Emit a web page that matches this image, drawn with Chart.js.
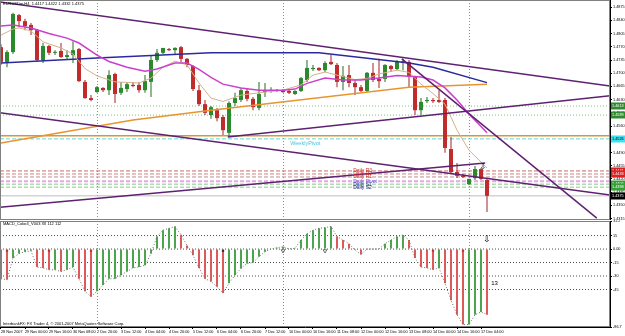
<!DOCTYPE html>
<html>
<head>
<meta charset="utf-8">
<script src="https://cdn.jsdelivr.net/npm/chart.js@4.4.1/dist/chart.umd.min.js"></script>
<style>
  html, body { margin: 0; padding: 0; background: #fff; }
  #wrap { position: relative; width: 625px; height: 336px; overflow: hidden; }
  #priceChart { position: absolute; left: 0; top: 0; }
  #oscChart { position: absolute; left: 0; top: 220px; }
</style>
</head>
<body>
<div id="wrap">
  <canvas id="priceChart" width="625" height="220"></canvas>
  <canvas id="oscChart" width="625" height="116"></canvas>
</div>
<script>
// --- 1. DATA ---
const symbol = 'EURUSDm,H4';

const opens  = [1.4769,1.4730,1.4756,1.4854,1.4838,1.4828,1.4814,1.4735,1.4772,1.4754,1.4759,1.4743,1.4748,1.4764,1.4677,1.4634,1.4650,1.4661,1.4655,1.4698,
                1.4648,1.4658,1.4669,1.4669,1.4655,1.4677,1.4735,1.4754,1.4764,1.4761,1.4769,1.4738,1.4719,1.4655,1.4618,1.4589,1.4602,1.4584,1.4542,1.4621,
                1.4629,1.4653,1.4632,1.4608,1.4650,1.4653,1.4655,1.4655,1.4653,1.4645,1.4653,1.4682,1.4711,1.4714,1.4708,1.4730,1.4722,1.4677,1.4695,1.4674,
                1.4663,1.4653,1.4701,1.4685,1.4685,1.4719,1.4711,1.4727,1.4730,1.4690,1.4602,1.4626,1.4629,1.4629,1.4629,1.4499,1.4438,1.4428,1.4406,1.4422,
                1.4446,1.4417];
const highs  = [1.4777,1.4761,1.4860,1.4857,1.4844,1.4833,1.4817,1.4780,1.4775,1.4761,1.4780,1.4761,1.4785,1.4767,1.4682,1.4642,1.4666,1.4663,1.4708,1.4701,
                1.4677,1.4677,1.4677,1.4677,1.4695,1.4748,1.4764,1.4767,1.4767,1.4769,1.4772,1.4740,1.4722,1.4669,1.4629,1.4613,1.4608,1.4589,1.4626,1.4648,
                1.4661,1.4661,1.4637,1.4677,1.4674,1.4663,1.4658,1.4658,1.4658,1.4655,1.4690,1.4735,1.4722,1.4716,1.4732,1.4748,1.4727,1.4719,1.4722,1.4682,
                1.4669,1.4703,1.4727,1.4738,1.4724,1.4722,1.4735,1.4738,1.4735,1.4693,1.4634,1.4637,1.4634,1.4655,1.4634,1.4531,1.4462,1.4433,1.4420,1.4454,
                1.4449,1.4422];
const lows   = [1.4722,1.4716,1.4751,1.4822,1.4814,1.4801,1.4730,1.4727,1.4748,1.4748,1.4740,1.4735,1.4727,1.4677,1.4632,1.4626,1.4648,1.4650,1.4642,1.4621,
                1.4642,1.4650,1.4663,1.4648,1.4648,1.4637,1.4730,1.4751,1.4759,1.4748,1.4730,1.4716,1.4653,1.4613,1.4589,1.4579,1.4573,1.4536,1.4531,1.4613,
                1.4624,1.4626,1.4602,1.4602,1.4637,1.4648,1.4650,1.4648,1.4645,1.4642,1.4650,1.4677,1.4706,1.4706,1.4703,1.4722,1.4663,1.4655,1.4663,1.4642,
                1.4650,1.4650,1.4677,1.4661,1.4677,1.4703,1.4708,1.4708,1.4663,1.4589,1.4589,1.4621,1.4621,1.4621,1.4489,1.4433,1.4422,1.4422,1.4404,1.4417,
                1.4417,1.4332];
const closes = [1.4730,1.4756,1.4857,1.4838,1.4825,1.4814,1.4735,1.4772,1.4754,1.4756,1.4743,1.4748,1.4761,1.4679,1.4634,1.4629,1.4663,1.4655,1.4695,1.4645,
                1.4661,1.4671,1.4666,1.4655,1.4679,1.4735,1.4754,1.4767,1.4761,1.4767,1.4738,1.4722,1.4658,1.4618,1.4595,1.4610,1.4581,1.4549,1.4621,1.4634,
                1.4655,1.4632,1.4610,1.4645,1.4655,1.4655,1.4653,1.4650,1.4648,1.4653,1.4687,1.4714,1.4714,1.4708,1.4727,1.4724,1.4677,1.4693,1.4674,1.4663,
                1.4653,1.4701,1.4682,1.4679,1.4722,1.4711,1.4730,1.4732,1.4690,1.4602,1.4624,1.4629,1.4626,1.4624,1.4502,1.4438,1.4428,1.4425,1.4420,1.4446,
                1.4420,1.4375];

// indicator lines: [bar, price]
const maPink   = [[0,1.4825],[2,1.4828],[5,1.4820],[8,1.4805],[11,1.4793],[13,1.4780],[16,1.4748],[18,1.4731],[21,1.4716],[24,1.4705],[26,1.4711],
                  [29,1.4727],[31,1.4727],[33,1.4710],[35,1.4689],[37,1.4671],[40,1.4661],[43,1.4655],[47,1.4655],[49,1.4658],[51,1.4673],[54,1.4687],
                  [57,1.4682],[60,1.4682],[63,1.4687],[66,1.4694],[70,1.4690],[72,1.4682],[74,1.4661],[76,1.4629],[78,1.4592],[81,1.4542]];
const maTan    = [[0,1.4801],[2,1.4817],[3,1.4820],[5,1.4812],[7,1.4783],[10,1.4767],[12,1.4751],[14,1.4712],[16,1.4693],[19,1.4677],[23,1.4674],
                  [25,1.4687],[27,1.4716],[29,1.4732],[31,1.4722],[33,1.4674],[35,1.4634],[37,1.4625],[40,1.4642],[44,1.4650],[47,1.4655],[50,1.4669],
                  [52,1.4695],[54,1.4703],[56,1.4695],[59,1.4683],[61,1.4686],[63,1.4698],[66,1.4708],[68,1.4702],[70,1.4671],[72,1.4646],[74,1.4618],
                  [76,1.4549],[78,1.4496],[81,1.4449]];
const maBlue   = [[0,1.4727],[16,1.4740],[35,1.4754],[53,1.4754],[68,1.4727],[72,1.4716],[81,1.4675]];
const maOrange = [[0,1.4515],[22,1.4576],[35,1.4602],[68,1.4663],[81,1.4671]];

// trend lines: [bar1, price1, bar2, price2]
const trendLines = [
  [-0.17, 1.4889, 101.5, 1.4666],
  [-0.17, 1.4595, 101.5, 1.4377],
  [-0.17, 1.4345, 80.7, 1.4462],
  [37.8, 1.4531, 101.5, 1.4640],
  [66.8, 1.4738, 99.3, 1.4316]
];

const levelPrices = [1.4613, 1.4589, 1.4534, 1.4526, 1.4441, 1.4433, 1.4425, 1.4414, 1.4406, 1.4398];
const levelNames  = ['', '', '', 'WeeklyPivot', 'Daily R3', 'Daily R2', 'Daily R1', 'Daily Pivot', 'Daily S1', 'Daily S2'];

const priceTicks = [1.4875,1.4840,1.4805,1.4770,1.4735,1.4700,1.4665,1.4630,1.4595,1.4560,1.4525,1.4490,1.4455,1.4420,1.4385,1.4350,1.4315];
const timeLabels = ['28 Nov 2007','29 Nov 00:00','29 Nov 16:00','30 Nov 08:00','2 Dec 20:00','3 Dec 12:00','4 Dec 04:00','4 Dec 20:00',
                    '5 Dec 12:00','6 Dec 04:00','6 Dec 20:00','7 Dec 12:00','10 Dec 00:00','10 Dec 16:00','11 Dec 08:00','12 Dec 00:00',
                    '12 Dec 16:00','13 Dec 08:00','14 Dec 00:00','14 Dec 16:00','17 Dec 04:00'];
const separatorBars = [16, 47, 78];

// oscillator window
const oscName = 'MACD_Color4_V003 XII 112 112';
const oscValues = [-33,-34,-10,-5,-3,-2,-20,-21,-23,-23,-25,-23,-20,-33,-47,-53,-47,-40,-33,-33,
                   -29,-25,-21,-20,-18,-5,14,21,23,25,16,4,-7,-21,-33,-36,-42,-49,-38,-29,
                   -21.5,-16,-15,-8.5,-3,0,1.5,2.6,0,1,10,17,21,23,24,25,14,10,6,-1,
                   -6,0,0,0,6,10,14,15.6,10,-10,-20,-21,-23,-21,-38,-57,-73,-84,-84,-73,
                   -70,-73];
const oscLevels = [15, 0, -15, -30, -45];
const oscTicks = [31.2, 15, 0, -15, -30, -45, -86.7];
const signalBars = [1, 8, 15, 72, 77];
const darkSignalBars = [37];
const vBars = [47, 54];
const footer = 'InterbankFX: FX Trader 4, \u00A9 2001-2007 MetaQuotes Software Corp.';

// --- 2. SETUP ---
const FONT = '"Liberation Sans", Arial, sans-serif';
const X_MIN = -1 / 6, X_MAX = 101.5;
const P_MIN = 1.4311, P_MAX = 1.4894;
const O_MIN = -86.7, O_MAX = 31.2;
const BULL = '#2b8a2b', BEAR = '#c22b2b';
const bid = closes[closes.length - 1];
const last = opens.length - 1;

// colour + placement of each horizontal level
const levelStyles = [
  { color: '#7fc47f', dash: [1, 2], width: 1, tag: '#2e8b2e' },
  { color: '#7fc47f', dash: [1, 2], width: 1, tag: '#2e8b2e' },
  { color: '#d9953a', dash: [], width: 1.5 },
  { color: '#5fd8e0', dash: [4, 2], width: 1, tag: '#3fe0f0', tagText: '#000', labelBar: 48.2, labelDy: 5, labelColor: '#3cc8dc', labelSize: 5.5 },
  { color: '#c86a6a', dash: [4, 2], width: 1, tag: '#e02020', labelBar: 58.7, labelColor: '#d03030' },
  { color: '#d98080', dash: [4, 2], width: 1, tag: '#e02020', labelBar: 58.7, labelColor: '#d03030' },
  { color: '#b88e8e', dash: [4, 2], width: 1, labelBar: 58.7, labelColor: '#d03030' },
  { color: '#e6a6e6', dash: [4, 2], width: 2, labelBar: 58.7, labelColor: '#6a5acd' },
  { color: '#86c986', dash: [4, 2], width: 1, tag: '#33a033', labelBar: 58.7, labelColor: '#303090' },
  { color: '#86c986', dash: [4, 2], width: 1, tag: '#33a033', labelBar: 58.7, labelColor: '#303090' }
];

const knots = arr => arr.map(([x, y]) => ({ x, y }));
const flat = (v, col, dash, w, order) => ({
  type: 'line', data: [{ x: X_MIN - 1, y: v }, { x: X_MAX + 1, y: v }],
  borderColor: col, borderDash: dash, borderWidth: w, pointRadius: 0, order
});

function drawSeparators(chart) {
  const { ctx, chartArea: a, scales: { x } } = chart;
  ctx.save();
  ctx.strokeStyle = '#8c8c8c';
  ctx.lineWidth = 1;
  ctx.setLineDash([1, 2]);
  separatorBars.forEach(b => {
    const px = Math.round(x.getPixelForValue(b)) + 0.5;
    ctx.beginPath(); ctx.moveTo(px, a.top); ctx.lineTo(px, a.bottom); ctx.stroke();
  });
  ctx.restore();
}

function drawFrame(chart) {
  const { ctx, chartArea: a } = chart;
  ctx.save();
  ctx.strokeStyle = '#808080';
  ctx.lineWidth = 1;
  ctx.strokeRect(a.left + 0.5, a.top + 0.5, a.right - a.left - 1, a.bottom - a.top - 1);
  ctx.restore();
}

function drawTag(ctx, chart, price, fill, textCol) {
  const py = chart.scales.y.getPixelForValue(price);
  const a = chart.chartArea;
  ctx.fillStyle = fill;
  ctx.fillRect(a.right + 1, Math.round(py) - 3.5, 14, 7);
  ctx.fillStyle = textCol || '#fff';
  ctx.font = '3.8px ' + FONT;
  ctx.textAlign = 'left';
  ctx.textBaseline = 'middle';
  ctx.fillText(price.toFixed(4), a.right + 2, Math.round(py));
}

const priceDecor = {
  id: 'priceDecor',
  beforeDatasetsDraw: drawSeparators,
  afterDraw(chart) {
    const { ctx, scales: { x, y } } = chart;
    drawFrame(chart);
    ctx.save();
    // title
    ctx.fillStyle = '#000';
    ctx.font = '4px ' + FONT;
    ctx.textBaseline = 'middle';
    ctx.fillText(`${symbol}  ${opens[last].toFixed(4)} ${highs[last].toFixed(4)} ${lows[last].toFixed(4)} ${closes[last].toFixed(4)}`, 3, 4);
    // level names
    levelPrices.forEach((p, k) => {
      const st = levelStyles[k];
      if (!levelNames[k] || st.labelBar === undefined) return;
      ctx.fillStyle = st.labelColor;
      ctx.font = (st.labelSize || 5) + 'px ' + FONT;
      ctx.textAlign = 'left';
      ctx.textBaseline = 'middle';
      ctx.fillText(levelNames[k], x.getPixelForValue(st.labelBar), y.getPixelForValue(p) + (st.labelDy || 0));
    });
    // arrow object near the last bars
    ctx.fillStyle = '#000';
    ctx.font = '8px "DejaVu Sans"';
    ctx.textAlign = 'center';
    ctx.fillText('\u21E9', x.getPixelForValue(80.3), y.getPixelForValue(1.4451));
    // price tags on the axis
    levelPrices.forEach((p, k) => { if (levelStyles[k].tag) drawTag(ctx, chart, p, levelStyles[k].tag, levelStyles[k].tagText); });
    drawTag(ctx, chart, bid, '#000', '#fff');
    ctx.restore();
  }
};

const oscDecor = {
  id: 'oscDecor',
  beforeDatasetsDraw: drawSeparators,
  afterDraw(chart) {
    const { ctx, scales: { x, y } } = chart;
    drawFrame(chart);
    ctx.save();
    ctx.fillStyle = '#000';
    ctx.font = '4px ' + FONT;
    ctx.textAlign = 'left';
    ctx.textBaseline = 'middle';
    ctx.fillText(oscName, 3, 4);
    ctx.fillText(footer, 3, 104);
    ctx.font = '6px ' + FONT;
    ctx.fillText('13', x.getPixelForValue(81.7), y.getPixelForValue(-38));
    ctx.font = '9px "DejaVu Sans"';
    ctx.textAlign = 'center';
    ctx.fillText('\u21E9', x.getPixelForValue(81), y.getPixelForValue(10));
    ctx.restore();
  }
};

const commonOpts = {
  responsive: false,
  animation: false,
  events: [],
  devicePixelRatio: 1,
  plugins: { legend: { display: false }, tooltip: { enabled: false } }
};

// --- 3. PRICE WINDOW ---
const priceChart = new Chart(document.getElementById('priceChart'), {
  type: 'bar',
  data: {
    datasets: [
      ...trendLines.map(t => ({
        type: 'line', data: [{ x: t[0], y: t[1] }, { x: t[2], y: t[3] }],
        borderColor: '#5e2170', borderWidth: 1.5, pointRadius: 0, order: 1
      })),
      { type: 'line', data: knots(maPink), borderColor: '#cc3fcc', borderWidth: 1.5, pointRadius: 0, order: 2 },
      { type: 'line', data: knots(maTan), borderColor: '#d4b08a', borderWidth: 1, pointRadius: 0, order: 2 },
      { type: 'line', data: knots(maBlue), borderColor: '#2a2a9e', borderWidth: 1.5, pointRadius: 0, order: 2 },
      { type: 'line', data: knots(maOrange), borderColor: '#e8952e', borderWidth: 1.5, pointRadius: 0, order: 2 },
      {
        type: 'bar', data: opens.map((o, i) => ({ x: i, y: [o, closes[i]] })),
        backgroundColor: c => closes[c.dataIndex] >= opens[c.dataIndex] ? BULL : BEAR,
        barThickness: 4, grouped: false, minBarLength: 1, inflateAmount: 0, order: 3
      },
      {
        type: 'bar', data: lows.map((l, i) => ({ x: i, y: [l, highs[i]] })),
        backgroundColor: c => closes[c.dataIndex] >= opens[c.dataIndex] ? '#256b25' : '#a52424',
        barThickness: 1, grouped: false, inflateAmount: 0, order: 4
      },
      ...levelPrices.map((p, k) => flat(p, levelStyles[k].color, levelStyles[k].dash, levelStyles[k].width, 5)),
      flat(bid, '#bdbdbd', [], 1, 5)
    ]
  },
  options: {
    ...commonOpts,
    layout: { padding: 0, autoPadding: false },
    scales: {
      x: { type: 'linear', min: X_MIN, max: X_MAX, display: false, offset: false, grid: { offset: false } },
      y: {
        type: 'linear', position: 'right', min: P_MIN, max: P_MAX,
        afterBuildTicks: s => { s.ticks = priceTicks.map(v => ({ value: v })); },
        afterFit: s => { s.width = 15; s.paddingTop = 0; s.paddingBottom = 0; },
        ticks: { font: { size: 3.8, family: FONT }, color: '#000', padding: 1, autoSkip: false, callback: v => v.toFixed(4) },
        grid: { drawOnChartArea: false, drawTicks: true, tickLength: 2, tickColor: '#000' },
        border: { display: true, color: '#000', width: 1 }
      }
    }
  },
  plugins: [priceDecor]
});

// --- 4. OSCILLATOR WINDOW ---
const oscChart = new Chart(document.getElementById('oscChart'), {
  type: 'bar',
  data: {
    datasets: [
      {
        type: 'scatter', data: signalBars.map(b => ({ x: b, y: -2 })),
        pointStyle: 'rect', pointRadius: 1.6, backgroundColor: '#d03030', borderWidth: 0, order: 1
      },
      {
        type: 'scatter', data: darkSignalBars.map(b => ({ x: b, y: -2 })),
        pointStyle: 'rect', pointRadius: 1.6, backgroundColor: '#333', borderWidth: 0, order: 1
      },
      {
        type: 'scatter', data: vBars.map(b => ({ x: b, y: -2 })),
        pointStyle: 'triangle', rotation: 180, pointRadius: 2.2, backgroundColor: 'rgba(0,0,0,0)', borderColor: '#555', borderWidth: 0.8, order: 1
      },
      {
        type: 'line', data: oscValues.map((v, i) => ({ x: i, y: v })),
        borderColor: '#707070', borderWidth: 1, borderDash: [1, 2], pointRadius: 0, order: 2
      },
      {
        type: 'bar', data: oscValues.map((v, i) => ({ x: i, y: v })),
        backgroundColor: c => (c.dataIndex > 0 && oscValues[c.dataIndex] >= oscValues[c.dataIndex - 1]) ? '#4ca44c' : '#dc5a5a',
        barThickness: 2, grouped: false, inflateAmount: 0, order: 3
      },
      ...oscLevels.map(v => flat(v, '#4a4a4a', [1, 2], 1, 4))
    ]
  },
  options: {
    ...commonOpts,
    layout: { padding: { top: 1, left: 0, right: 0, bottom: 0 }, autoPadding: false },
    scales: {
      x: {
        type: 'linear', min: X_MIN, max: X_MAX, offset: false, position: 'bottom',
        afterBuildTicks: s => { s.ticks = timeLabels.map((_, k) => ({ value: k * 4 })); },
        afterFit: s => { s.height = 9; s.paddingLeft = 0; s.paddingRight = 0; },
        ticks: {
          autoSkip: false, maxRotation: 0, minRotation: 0, align: 'start', padding: 1,
          font: { size: 3.8, family: FONT }, color: '#000',
          callback: v => timeLabels[Math.round(v / 4)]
        },
        grid: { offset: false, drawOnChartArea: false, drawTicks: true, tickLength: 2, tickColor: '#000' },
        border: { display: true, color: '#000' }
      },
      y: {
        type: 'linear', position: 'right', min: O_MIN, max: O_MAX,
        afterBuildTicks: s => { s.ticks = oscTicks.map(v => ({ value: v })); },
        afterFit: s => { s.width = 15; s.paddingTop = 0; s.paddingBottom = 0; },
        ticks: { font: { size: 3.8, family: FONT }, color: '#000', padding: 1, autoSkip: false, callback: v => v === 0 ? '0.00' : String(v) },
        grid: { drawOnChartArea: false, drawTicks: true, tickLength: 2, tickColor: '#000' },
        border: { display: true, color: '#000' }
      }
    }
  },
  plugins: [oscDecor]
});
</script>
</body>
</html>
